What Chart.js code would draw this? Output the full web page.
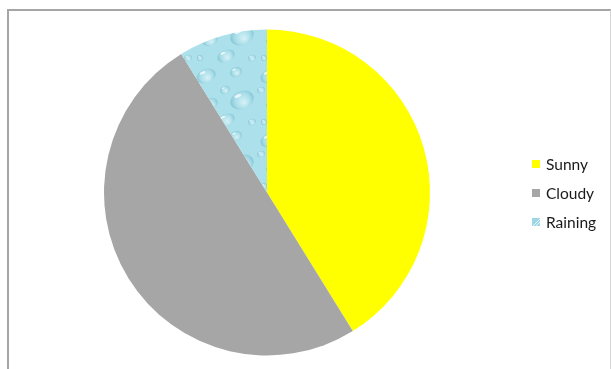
<!DOCTYPE html>
<html>
<head>
<meta charset="utf-8">
<script src="https://cdn.jsdelivr.net/npm/chart.js@4.4.1/dist/chart.umd.min.js"></script>
<style>
  html, body { margin: 0; padding: 0; background: #fff; }
  #wrap { position: relative; width: 611px; height: 369px; overflow: hidden; }
  #frame {
    position: absolute; left: 7px; top: 9px; width: 601px; height: 400px;
    border-left: 2px solid #a6a6a6; border-top: 2px solid #a6a6a6;
    border-right: 1px solid #d4d4d4;
  }
  canvas { position: absolute; left: 0; top: 0; }
</style>
</head>
<body>
<div id="wrap">
  <div id="frame"></div>
  <canvas id="weatherPie" width="611" height="369"></canvas>
</div>
<script>
const labels = ['Sunny', 'Cloudy', 'Raining'];
const days = [14, 17, 3];
const colors = ['#ffff00', '#a6a6a6', null]; // raining gets a texture

// water drop texture for the raining slice
function makeDropPattern(ctx) {
  const tile = document.createElement('canvas');
  tile.width = 64; tile.height = 64;
  const t = tile.getContext('2d');
  t.fillStyle = '#ace0ea';
  t.fillRect(0, 0, 64, 64);
  const drops = [
    [14, 12, 10, 7], [44, 8, 6, 5], [50, 36, 12, 9], [18, 40, 8, 6],
    [34, 56, 9, 6], [5, 26, 4, 3], [33, 26, 5, 4], [60, 58, 4, 3], [8, 58, 3, 3]
  ];
  drops.forEach(([x, y, rx, ry]) => {
    const g = t.createRadialGradient(x + rx * 0.2, y + ry * 0.3, 0, x, y, rx);
    g.addColorStop(0, '#d6f2f7');
    g.addColorStop(0.65, '#a9dde8');
    g.addColorStop(1, '#86c6d6');
    t.fillStyle = g;
    t.beginPath();
    t.ellipse(x, y, rx, ry, -0.4, 0, Math.PI * 2);
    t.fill();
    t.fillStyle = 'rgba(255,255,255,0.7)';
    t.beginPath();
    t.ellipse(x - rx * 0.35, y - ry * 0.45, rx * 0.3, ry * 0.18, -0.4, 0, Math.PI * 2);
    t.fill();
  });
  return ctx.createPattern(tile, 'repeat');
}

const canvas = document.getElementById('weatherPie');
const ctx = canvas.getContext('2d');
colors[2] = makeDropPattern(ctx);

// legend drawn on the right, next to the pie
const sideLegend = {
  id: 'sideLegend',
  afterDraw(chart) {
    const c = chart.ctx;
    c.save();
    c.font = '15.5px Lato, "Open Sans", sans-serif';
    c.textBaseline = 'middle';
    labels.forEach((name, i) => {
      const y = 164 + i * 29;
      if (i === 2) {
        c.fillStyle = '#9fd6e4';
        c.fillRect(532, y - 4, 8, 8);
        c.strokeStyle = '#e6f6fa';
        c.lineWidth = 1;
        c.beginPath();
        c.moveTo(533, y + 4); c.lineTo(540, y - 3);
        c.moveTo(536, y + 4); c.lineTo(540, y);
        c.stroke();
      } else {
        c.fillStyle = colors[i];
        c.fillRect(532, y - 4, 8, 8);
      }
      c.fillStyle = '#1a1a1a';
      c.fillText(name, 546, y + 1);
    });
    c.restore();
  }
};

new Chart(ctx, {
  type: 'pie',
  data: {
    labels: labels,
    datasets: [{
      data: days,
      backgroundColor: colors,
      borderWidth: 0
    }]
  },
  options: {
    responsive: false,
    animation: false,
    layout: { padding: { left: 104, right: 181, top: 29, bottom: 13 } },
    plugins: {
      legend: { display: false },
      tooltip: { enabled: false }
    }
  },
  plugins: [sideLegend]
});
</script>
</body>
</html>
